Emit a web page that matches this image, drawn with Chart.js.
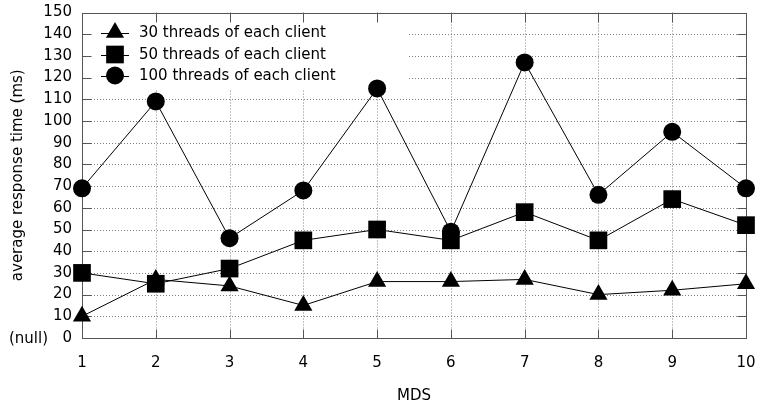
<!DOCTYPE html>
<html>
<head>
<meta charset="utf-8">
<title>Average response time per MDS</title>
<script src="https://cdn.jsdelivr.net/npm/chart.js@4/dist/chart.umd.min.js"></script>
<style>
  html, body { margin: 0; padding: 0; background: #fff; }
  #wrap { width: 760px; height: 408px; }
</style>
</head>
<body>
<div id="wrap"><canvas id="c" width="760" height="408"></canvas></div>
<script>
// Number of metadata servers (x axis)
const mdsCount = [1, 2, 3, 4, 5, 6, 7, 8, 9, 10];

// Average response time in ms for each client load
const threads30  = [10, 27, 24, 15, 26, 26, 27, 20, 22, 25];
const threads50  = [30, 25, 32, 45, 50, 45, 58, 45, 64, 52];
const threads100 = [69, 109, 46, 68, 115, 49, 127, 66, 95, 69];

const seriesNames = ['30 threads of each client', '50 threads of each client', '100 threads of each client'];
const yTickValues = [0, 10, 20, 30, 40, 50, 60, 70, 80, 90, 100, 110, 120, 130, 140, 150];

const FONT = "'DejaVu Sans', Verdana, sans-serif";
Chart.defaults.font.family = FONT;
Chart.defaults.font.size = 15;
Chart.defaults.color = '#000';

const markers = [
  { style: 'triangle', radius: 10.5 },
  { style: 'rect', radius: 12.5 },
  { style: 'circle', radius: 9 }
];

function toPoints(values) {
  return mdsCount.map((m, i) => ({ x: m, y: values[i] }));
}

function makeDataset(label, values, marker) {
  return {
    label,
    data: toPoints(values),
    borderColor: '#000',
    borderWidth: 1,
    backgroundColor: '#000',
    pointStyle: marker.style,
    pointRadius: marker.radius,
    pointBackgroundColor: '#000',
    pointBorderWidth: 0,
    tension: 0,
    fill: false,
    clip: false
  };
}

// Scales keep their own size but ask for no extra room around the plot
function noOverhang(scale) {
  scale.paddingTop = 0;
  scale.paddingBottom = 0;
  scale.paddingLeft = 0;
  scale.paddingRight = 0;
}

// Same geometry as Chart.js point styles, for the key samples
function drawMarker(ctx, style, r, x, y) {
  ctx.beginPath();
  if (style === 'circle') {
    ctx.arc(x, y, r, 0, Math.PI * 2);
  } else if (style === 'rect') {
    const s = Math.SQRT1_2 * r;
    ctx.rect(x - s, y - s, 2 * s, 2 * s);
  } else {
    for (let k = 0; k < 3; k++) {
      const a = k * 2 * Math.PI / 3;
      const px = x + Math.sin(a) * r;
      const py = y - Math.cos(a) * r;
      if (k === 0) ctx.moveTo(px, py); else ctx.lineTo(px, py);
    }
    ctx.closePath();
  }
  ctx.fill();
}

// Dotted grid, opaque key backdrop, frame and inward ticks
const framePlugin = {
  id: 'frame',
  beforeDatasetsDraw(chart) {
    const { ctx, chartArea: a, scales: { x, y } } = chart;
    ctx.save();
    ctx.lineWidth = 1;
    ctx.strokeStyle = '#808080';
    ctx.setLineDash([1, 2]);
    yTickValues.forEach(v => {
      if (v <= y.min || v >= y.max) return;
      const py = Math.round(y.getPixelForValue(v)) + 0.5;
      ctx.beginPath(); ctx.moveTo(a.left, py); ctx.lineTo(a.right, py); ctx.stroke();
    });
    mdsCount.forEach(v => {
      if (v <= x.min || v >= x.max) return;
      const px = Math.round(x.getPixelForValue(v)) + 0.5;
      ctx.beginPath(); ctx.moveTo(px, a.top); ctx.lineTo(px, a.bottom); ctx.stroke();
    });
    ctx.setLineDash([]);

    // key backdrop
    ctx.fillStyle = '#fff';
    ctx.fillRect(a.left + 1, a.top + 1, 325, 76);

    // frame
    const L = Math.round(a.left) + 0.5, R = Math.round(a.right) + 0.5;
    const T = Math.round(a.top) + 0.5, B = Math.round(a.bottom) + 0.5;
    ctx.strokeStyle = '#555';
    ctx.strokeRect(L, T, R - L, B - T);

    // inward ticks on all four sides
    const tl = 9;
    ctx.beginPath();
    yTickValues.forEach(v => {
      if (v <= y.min || v >= y.max) return;
      const py = Math.round(y.getPixelForValue(v)) + 0.5;
      ctx.moveTo(L, py); ctx.lineTo(L + tl, py);
      ctx.moveTo(R, py); ctx.lineTo(R - tl, py);
    });
    mdsCount.forEach(v => {
      if (v <= x.min || v >= x.max) return;
      const px = Math.round(x.getPixelForValue(v)) + 0.5;
      ctx.moveTo(px, B); ctx.lineTo(px, B - tl);
      ctx.moveTo(px, T); ctx.lineTo(px, T + tl);
    });
    ctx.stroke();
    ctx.restore();
  },
  afterDraw(chart) {
    const { ctx, chartArea: a, scales: { y } } = chart;
    ctx.save();
    // key
    ctx.font = '15px ' + FONT;
    ctx.textBaseline = 'middle';
    ctx.textAlign = 'left';
    const rows = [20, 42, 63];
    chart.data.datasets.forEach((ds, i) => {
      const ry = a.top + rows[i];
      const mx = a.left + 33;
      ctx.strokeStyle = '#000';
      ctx.lineWidth = 1;
      ctx.beginPath();
      ctx.moveTo(a.left + 19, Math.round(ry) + 0.5);
      ctx.lineTo(a.left + 47, Math.round(ry) + 0.5);
      ctx.stroke();
      ctx.fillStyle = '#000';
      drawMarker(ctx, markers[i].style, markers[i].radius, mx, ry);
      ctx.fillText(ds.label, a.left + 57, ry + 1);
    });
    // label beside the zero tick
    ctx.textAlign = 'right';
    ctx.fillText('(null)', 48, y.getPixelForValue(0) + 1);
    ctx.restore();
  }
};

new Chart(document.getElementById('c'), {
  type: 'line',
  data: {
    datasets: [
      makeDataset(seriesNames[0], threads30, markers[0]),
      makeDataset(seriesNames[1], threads50, markers[1]),
      makeDataset(seriesNames[2], threads100, markers[2])
    ]
  },
  options: {
    responsive: false,
    animation: false,
    devicePixelRatio: 1,
    events: [],
    layout: { padding: { top: 8, right: 14, left: 0, bottom: 0 } },
    plugins: {
      legend: { display: false },
      tooltip: { enabled: false }
    },
    scales: {
      x: {
        type: 'linear',
        position: 'bottom',
        min: 1,
        max: 10,
        grid: { display: false, drawTicks: false },
        border: { display: false },
        ticks: {
          stepSize: 1,
          autoSkip: false,
          maxRotation: 0,
          padding: 16,
          color: '#000',
          font: { size: 15 }
        },
        title: {
          display: true,
          text: 'MDS',
          color: '#000',
          font: { size: 15 },
          padding: { top: 0, bottom: 3 }
        },
        afterFit(scale) { scale.height = 70; noOverhang(scale); }
      },
      y: {
        min: 0,
        max: 150,
        grid: { display: false, drawTicks: false },
        border: { display: false },
        afterBuildTicks(scale) { scale.ticks = yTickValues.map(v => ({ value: v })); },
        ticks: {
          padding: 10,
          color: '#000',
          font: { size: 15 }
        },
        title: {
          display: true,
          text: 'average response time (ms)',
          color: '#000',
          font: { size: 15 },
          padding: { top: 9, bottom: 0 }
        },
        afterFit(scale) { scale.width = 82; noOverhang(scale); }
      }
    }
  },
  plugins: [framePlugin]
});
</script>
</body>
</html>
